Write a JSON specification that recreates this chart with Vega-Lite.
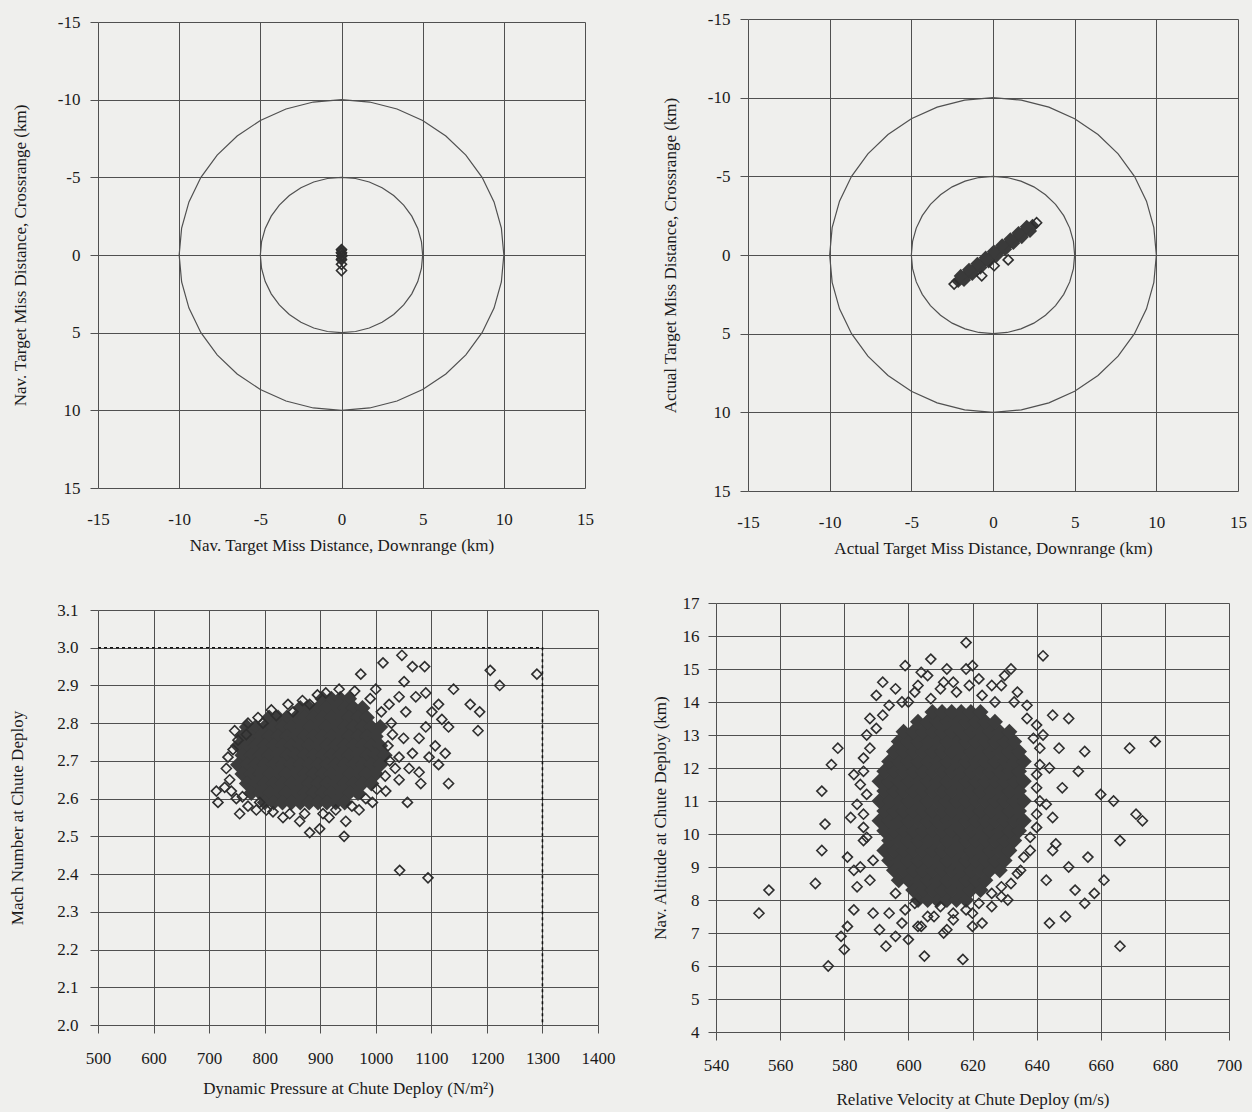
{
"$schema": "https://vega.github.io/schema/vega-lite/v6.json",
"background": "#efefed",
"padding": {"left": 8, "top": 10, "right": 5, "bottom": 5},
"config": {
  "font": "Liberation Serif",
  "view": {"stroke": null},
  "axis": {"grid": true, "gridColor": "#505050", "gridOpacity": 1, "gridWidth": 1, "domain": false, "tickColor": "#505050", "tickSize": 8, "labelFont": "Liberation Serif", "labelFontSize": 17, "labelColor": "#1a1a1a", "labelOverlap": false, "labelFlush": false, "titleFont": "Liberation Serif", "titleFontSize": 17, "titleFontWeight": "normal", "titleColor": "#1a1a1a"}
},
"datasets": {
  "circles": [
    {"r":10,"a":0,"x":10,"y":0},{"r":10,"a":10,"x":9.848,"y":1.736},{"r":10,"a":20,"x":9.397,"y":3.42},{"r":10,"a":30,"x":8.66,"y":5},{"r":10,"a":40,"x":7.66,"y":6.428},{"r":10,"a":50,"x":6.428,"y":7.66},{"r":10,"a":60,"x":5,"y":8.66},{"r":10,"a":70,"x":3.42,"y":9.397},{"r":10,"a":80,"x":1.736,"y":9.848},{"r":10,"a":90,"x":0,"y":10},{"r":10,"a":100,"x":-1.736,"y":9.848},{"r":10,"a":110,"x":-3.42,"y":9.397},{"r":10,"a":120,"x":-5,"y":8.66},{"r":10,"a":130,"x":-6.428,"y":7.66},{"r":10,"a":140,"x":-7.66,"y":6.428},{"r":10,"a":150,"x":-8.66,"y":5},{"r":10,"a":160,"x":-9.397,"y":3.42},{"r":10,"a":170,"x":-9.848,"y":1.736},{"r":10,"a":180,"x":-10,"y":0},{"r":10,"a":190,"x":-9.848,"y":-1.736},{"r":10,"a":200,"x":-9.397,"y":-3.42},{"r":10,"a":210,"x":-8.66,"y":-5},{"r":10,"a":220,"x":-7.66,"y":-6.428},{"r":10,"a":230,"x":-6.428,"y":-7.66},{"r":10,"a":240,"x":-5,"y":-8.66},{"r":10,"a":250,"x":-3.42,"y":-9.397},{"r":10,"a":260,"x":-1.736,"y":-9.848},{"r":10,"a":270,"x":0,"y":-10},{"r":10,"a":280,"x":1.736,"y":-9.848},{"r":10,"a":290,"x":3.42,"y":-9.397},{"r":10,"a":300,"x":5,"y":-8.66},{"r":10,"a":310,"x":6.428,"y":-7.66},{"r":10,"a":320,"x":7.66,"y":-6.428},{"r":10,"a":330,"x":8.66,"y":-5},{"r":10,"a":340,"x":9.397,"y":-3.42},{"r":10,"a":350,"x":9.848,"y":-1.736},{"r":10,"a":360,"x":10,"y":0},
    {"r":5,"a":0,"x":5,"y":0},{"r":5,"a":10,"x":4.924,"y":0.868},{"r":5,"a":20,"x":4.698,"y":1.71},{"r":5,"a":30,"x":4.33,"y":2.5},{"r":5,"a":40,"x":3.83,"y":3.214},{"r":5,"a":50,"x":3.214,"y":3.83},{"r":5,"a":60,"x":2.5,"y":4.33},{"r":5,"a":70,"x":1.71,"y":4.698},{"r":5,"a":80,"x":0.868,"y":4.924},{"r":5,"a":90,"x":0,"y":5},{"r":5,"a":100,"x":-0.868,"y":4.924},{"r":5,"a":110,"x":-1.71,"y":4.698},{"r":5,"a":120,"x":-2.5,"y":4.33},{"r":5,"a":130,"x":-3.214,"y":3.83},{"r":5,"a":140,"x":-3.83,"y":3.214},{"r":5,"a":150,"x":-4.33,"y":2.5},{"r":5,"a":160,"x":-4.698,"y":1.71},{"r":5,"a":170,"x":-4.924,"y":0.868},{"r":5,"a":180,"x":-5,"y":0},{"r":5,"a":190,"x":-4.924,"y":-0.868},{"r":5,"a":200,"x":-4.698,"y":-1.71},{"r":5,"a":210,"x":-4.33,"y":-2.5},{"r":5,"a":220,"x":-3.83,"y":-3.214},{"r":5,"a":230,"x":-3.214,"y":-3.83},{"r":5,"a":240,"x":-2.5,"y":-4.33},{"r":5,"a":250,"x":-1.71,"y":-4.698},{"r":5,"a":260,"x":-0.868,"y":-4.924},{"r":5,"a":270,"x":0,"y":-5},{"r":5,"a":280,"x":0.868,"y":-4.924},{"r":5,"a":290,"x":1.71,"y":-4.698},{"r":5,"a":300,"x":2.5,"y":-4.33},{"r":5,"a":310,"x":3.214,"y":-3.83},{"r":5,"a":320,"x":3.83,"y":-3.214},{"r":5,"a":330,"x":4.33,"y":-2.5},{"r":5,"a":340,"x":4.698,"y":-1.71},{"r":5,"a":350,"x":4.924,"y":-0.868},{"r":5,"a":360,"x":5,"y":0}
  ],
  "tl_core": [{"x":0,"y":-0.3},{"x":0,"y":-0.1},{"x":0,"y":0.1},{"x":0,"y":0.25}],
  "tl_pts": [{"x":0,"y":-0.35},{"x":0,"y":-0.15},{"x":0.03,"y":0.05},{"x":0,"y":0.3},{"x":0,"y":0.6},{"x":0,"y":1.0}],
  "tr_core": [{"x":-2.13,"y":1.655},{"x":-1.875,"y":1.46},{"x":-1.62,"y":1.265},{"x":-1.37,"y":1.07},{"x":-1.12,"y":0.875},{"x":-0.865,"y":0.68},{"x":-0.61,"y":0.485},{"x":-0.36,"y":0.29},{"x":-0.11,"y":0.095},{"x":0.145,"y":-0.1},{"x":0.4,"y":-0.295},{"x":0.65,"y":-0.49},{"x":0.9,"y":-0.685},{"x":1.155,"y":-0.88},{"x":1.41,"y":-1.075},{"x":1.66,"y":-1.27},{"x":1.91,"y":-1.465},{"x":2.165,"y":-1.66},{"x":2.42,"y":-1.855},
    {"x":-0.775,"y":0.8},{"x":-0.955,"y":0.56},{"x":-0.27,"y":0.41},{"x":-0.45,"y":0.17},{"x":0.235,"y":0.02},{"x":0.055,"y":-0.22},{"x":0.74,"y":-0.37},{"x":0.56,"y":-0.61},{"x":1.245,"y":-0.76},{"x":1.065,"y":-1.0},
    {"x":-1.775,"y":1.59},{"x":-1.975,"y":1.33},{"x":-1.27,"y":1.2},{"x":-1.47,"y":0.94},{"x":1.76,"y":-1.14},{"x":1.56,"y":-1.4},{"x":2.265,"y":-1.53},{"x":2.065,"y":-1.79}],
  "tr_pts": [{"x":-2.38,"y":1.85},{"x":2.67,"y":-2.05},{"x":-0.69,"y":1.32},{"x":0.07,"y":0.68},{"x":0.93,"y":0.31}],
  "bl_core": [
    {"x":904,"y":2.865},{"x":920,"y":2.865},{"x":936,"y":2.865},{"x":952,"y":2.865},
    {"x":864,"y":2.84},{"x":880,"y":2.84},{"x":896,"y":2.84},{"x":912,"y":2.84},{"x":928,"y":2.84},{"x":944,"y":2.84},{"x":960,"y":2.84},{"x":976,"y":2.84},
    {"x":808,"y":2.815},{"x":824,"y":2.815},{"x":840,"y":2.815},{"x":856,"y":2.815},{"x":872,"y":2.815},{"x":888,"y":2.815},{"x":904,"y":2.815},{"x":920,"y":2.815},{"x":936,"y":2.815},{"x":952,"y":2.815},{"x":968,"y":2.815},{"x":984,"y":2.815},
    {"x":768,"y":2.79},{"x":784,"y":2.79},{"x":800,"y":2.79},{"x":816,"y":2.79},{"x":832,"y":2.79},{"x":848,"y":2.79},{"x":864,"y":2.79},{"x":880,"y":2.79},{"x":896,"y":2.79},{"x":912,"y":2.79},{"x":928,"y":2.79},{"x":944,"y":2.79},{"x":960,"y":2.79},{"x":976,"y":2.79},{"x":992,"y":2.79},{"x":1008,"y":2.79},
    {"x":760,"y":2.765},{"x":776,"y":2.765},{"x":792,"y":2.765},{"x":808,"y":2.765},{"x":824,"y":2.765},{"x":840,"y":2.765},{"x":856,"y":2.765},{"x":872,"y":2.765},{"x":888,"y":2.765},{"x":904,"y":2.765},{"x":920,"y":2.765},{"x":936,"y":2.765},{"x":952,"y":2.765},{"x":968,"y":2.765},{"x":984,"y":2.765},{"x":1000,"y":2.765},
    {"x":752,"y":2.74},{"x":768,"y":2.74},{"x":784,"y":2.74},{"x":800,"y":2.74},{"x":816,"y":2.74},{"x":832,"y":2.74},{"x":848,"y":2.74},{"x":864,"y":2.74},{"x":880,"y":2.74},{"x":896,"y":2.74},{"x":912,"y":2.74},{"x":928,"y":2.74},{"x":944,"y":2.74},{"x":960,"y":2.74},{"x":976,"y":2.74},{"x":992,"y":2.74},{"x":1008,"y":2.74},
    {"x":760,"y":2.715},{"x":776,"y":2.715},{"x":792,"y":2.715},{"x":808,"y":2.715},{"x":824,"y":2.715},{"x":840,"y":2.715},{"x":856,"y":2.715},{"x":872,"y":2.715},{"x":888,"y":2.715},{"x":904,"y":2.715},{"x":920,"y":2.715},{"x":936,"y":2.715},{"x":952,"y":2.715},{"x":968,"y":2.715},{"x":984,"y":2.715},{"x":1000,"y":2.715},{"x":1016,"y":2.715},
    {"x":752,"y":2.69},{"x":768,"y":2.69},{"x":784,"y":2.69},{"x":800,"y":2.69},{"x":816,"y":2.69},{"x":832,"y":2.69},{"x":848,"y":2.69},{"x":864,"y":2.69},{"x":880,"y":2.69},{"x":896,"y":2.69},{"x":912,"y":2.69},{"x":928,"y":2.69},{"x":944,"y":2.69},{"x":960,"y":2.69},{"x":976,"y":2.69},{"x":992,"y":2.69},{"x":1008,"y":2.69},
    {"x":760,"y":2.665},{"x":776,"y":2.665},{"x":792,"y":2.665},{"x":808,"y":2.665},{"x":824,"y":2.665},{"x":840,"y":2.665},{"x":856,"y":2.665},{"x":872,"y":2.665},{"x":888,"y":2.665},{"x":904,"y":2.665},{"x":920,"y":2.665},{"x":936,"y":2.665},{"x":952,"y":2.665},{"x":968,"y":2.665},{"x":984,"y":2.665},{"x":1000,"y":2.665},
    {"x":768,"y":2.64},{"x":784,"y":2.64},{"x":800,"y":2.64},{"x":816,"y":2.64},{"x":832,"y":2.64},{"x":848,"y":2.64},{"x":864,"y":2.64},{"x":880,"y":2.64},{"x":896,"y":2.64},{"x":912,"y":2.64},{"x":928,"y":2.64},{"x":944,"y":2.64},{"x":960,"y":2.64},{"x":976,"y":2.64},{"x":992,"y":2.64},
    {"x":776,"y":2.615},{"x":792,"y":2.615},{"x":808,"y":2.615},{"x":824,"y":2.615},{"x":840,"y":2.615},{"x":856,"y":2.615},{"x":872,"y":2.615},{"x":888,"y":2.615},{"x":904,"y":2.615},{"x":920,"y":2.615},{"x":936,"y":2.615},{"x":952,"y":2.615},{"x":968,"y":2.615},
    {"x":800,"y":2.59},{"x":816,"y":2.59},{"x":832,"y":2.59},{"x":848,"y":2.59},{"x":864,"y":2.59},{"x":880,"y":2.59},{"x":896,"y":2.59},{"x":912,"y":2.59},{"x":928,"y":2.59},{"x":944,"y":2.59}
  ],
  "bl_pts": [
    {"x":713,"y":2.62},{"x":716,"y":2.59},{"x":755,"y":2.56},{"x":734,"y":2.71},{"x":731,"y":2.68},{"x":737,"y":2.65},{"x":746,"y":2.78},{"x":767,"y":2.77},{"x":743,"y":2.73},{"x":728,"y":2.63},{"x":749,"y":2.6},
    {"x":791,"y":2.59},{"x":803,"y":2.57},{"x":833,"y":2.55},{"x":863,"y":2.54},{"x":881,"y":2.51},{"x":899,"y":2.52},{"x":916,"y":2.55},{"x":943,"y":2.5},{"x":946,"y":2.54},{"x":970,"y":2.57},{"x":994,"y":2.59},{"x":1018,"y":2.62},{"x":1057,"y":2.59},{"x":1042,"y":2.65},
    {"x":1042,"y":2.71},{"x":1066,"y":2.72},{"x":1078,"y":2.76},{"x":1090,"y":2.79},{"x":1101,"y":2.83},{"x":1113,"y":2.85},{"x":1119,"y":2.81},{"x":1125,"y":2.72},{"x":1131,"y":2.79},{"x":1096,"y":2.71},{"x":1078,"y":2.67},{"x":1107,"y":2.74},{"x":1054,"y":2.83},{"x":1072,"y":2.87},{"x":1042,"y":2.87},{"x":1024,"y":2.85},{"x":1000,"y":2.89},{"x":1090,"y":2.88},{"x":1131,"y":2.64},{"x":1113,"y":2.69},{"x":1081,"y":2.64},{"x":1030,"y":2.77},{"x":1050,"y":2.76},{"x":1060,"y":2.68},{"x":1035,"y":2.68},
    {"x":973,"y":2.93},{"x":1013,"y":2.96},{"x":1047,"y":2.98},{"x":1066,"y":2.95},{"x":1088,"y":2.95},{"x":1051,"y":2.91},{"x":934,"y":2.89},{"x":910,"y":2.88},{"x":881,"y":2.85},{"x":851,"y":2.83},{"x":821,"y":2.82},{"x":797,"y":2.8},
    {"x":1140,"y":2.89},{"x":1206,"y":2.94},{"x":1170,"y":2.85},{"x":1187,"y":2.83},{"x":1184,"y":2.78},{"x":1223,"y":2.9},{"x":1290,"y":2.93},{"x":1043,"y":2.41},{"x":1094,"y":2.39},
    {"x":740,"y":2.62},{"x":760,"y":2.605},{"x":770,"y":2.58},{"x":785,"y":2.57},{"x":815,"y":2.565},{"x":845,"y":2.56},{"x":872,"y":2.56},{"x":905,"y":2.56},{"x":928,"y":2.57},{"x":957,"y":2.58},{"x":982,"y":2.6},{"x":1002,"y":2.625},{"x":1017,"y":2.66},{"x":1025,"y":2.7},{"x":1022,"y":2.74},{"x":1028,"y":2.8},{"x":1010,"y":2.83},{"x":990,"y":2.865},{"x":962,"y":2.885},{"x":895,"y":2.875},{"x":868,"y":2.86},{"x":842,"y":2.85},{"x":812,"y":2.835},{"x":788,"y":2.815},{"x":770,"y":2.8},{"x":752,"y":2.755}
  ],
  "bl_limit": [{"x":500,"y":3.0,"o":1},{"x":1300,"y":3.0,"o":2},{"x":1300,"y":2.0,"o":3}],
  "br_core": [
    {"x":603,"y":8.0},{"x":606,"y":8.0},{"x":609,"y":8.0},{"x":612,"y":8.0},{"x":615,"y":8.0},{"x":618,"y":8.0},
    {"x":601.5,"y":8.3},{"x":604.5,"y":8.3},{"x":607.5,"y":8.3},{"x":610.5,"y":8.3},{"x":613.5,"y":8.3},{"x":616.5,"y":8.3},{"x":619.5,"y":8.3},{"x":622.5,"y":8.3},
    {"x":597,"y":8.6},{"x":600,"y":8.6},{"x":603,"y":8.6},{"x":606,"y":8.6},{"x":609,"y":8.6},{"x":612,"y":8.6},{"x":615,"y":8.6},{"x":618,"y":8.6},{"x":621,"y":8.6},{"x":624,"y":8.6},
    {"x":595.5,"y":8.9},{"x":598.5,"y":8.9},{"x":601.5,"y":8.9},{"x":604.5,"y":8.9},{"x":607.5,"y":8.9},{"x":610.5,"y":8.9},{"x":613.5,"y":8.9},{"x":616.5,"y":8.9},{"x":619.5,"y":8.9},{"x":622.5,"y":8.9},{"x":625.5,"y":8.9},{"x":628.5,"y":8.9},
    {"x":594,"y":9.2},{"x":597,"y":9.2},{"x":600,"y":9.2},{"x":603,"y":9.2},{"x":606,"y":9.2},{"x":609,"y":9.2},{"x":612,"y":9.2},{"x":615,"y":9.2},{"x":618,"y":9.2},{"x":621,"y":9.2},{"x":624,"y":9.2},{"x":627,"y":9.2},{"x":630,"y":9.2},
    {"x":592.5,"y":9.5},{"x":595.5,"y":9.5},{"x":598.5,"y":9.5},{"x":601.5,"y":9.5},{"x":604.5,"y":9.5},{"x":607.5,"y":9.5},{"x":610.5,"y":9.5},{"x":613.5,"y":9.5},{"x":616.5,"y":9.5},{"x":619.5,"y":9.5},{"x":622.5,"y":9.5},{"x":625.5,"y":9.5},{"x":628.5,"y":9.5},{"x":631.5,"y":9.5},
    {"x":594,"y":9.8},{"x":597,"y":9.8},{"x":600,"y":9.8},{"x":603,"y":9.8},{"x":606,"y":9.8},{"x":609,"y":9.8},{"x":612,"y":9.8},{"x":615,"y":9.8},{"x":618,"y":9.8},{"x":621,"y":9.8},{"x":624,"y":9.8},{"x":627,"y":9.8},{"x":630,"y":9.8},{"x":633,"y":9.8},
    {"x":592.5,"y":10.1},{"x":595.5,"y":10.1},{"x":598.5,"y":10.1},{"x":601.5,"y":10.1},{"x":604.5,"y":10.1},{"x":607.5,"y":10.1},{"x":610.5,"y":10.1},{"x":613.5,"y":10.1},{"x":616.5,"y":10.1},{"x":619.5,"y":10.1},{"x":622.5,"y":10.1},{"x":625.5,"y":10.1},{"x":628.5,"y":10.1},{"x":631.5,"y":10.1},{"x":634.5,"y":10.1},
    {"x":591,"y":10.4},{"x":594,"y":10.4},{"x":597,"y":10.4},{"x":600,"y":10.4},{"x":603,"y":10.4},{"x":606,"y":10.4},{"x":609,"y":10.4},{"x":612,"y":10.4},{"x":615,"y":10.4},{"x":618,"y":10.4},{"x":621,"y":10.4},{"x":624,"y":10.4},{"x":627,"y":10.4},{"x":630,"y":10.4},{"x":633,"y":10.4},{"x":636,"y":10.4},
    {"x":592.5,"y":10.7},{"x":595.5,"y":10.7},{"x":598.5,"y":10.7},{"x":601.5,"y":10.7},{"x":604.5,"y":10.7},{"x":607.5,"y":10.7},{"x":610.5,"y":10.7},{"x":613.5,"y":10.7},{"x":616.5,"y":10.7},{"x":619.5,"y":10.7},{"x":622.5,"y":10.7},{"x":625.5,"y":10.7},{"x":628.5,"y":10.7},{"x":631.5,"y":10.7},{"x":634.5,"y":10.7},
    {"x":591,"y":11.0},{"x":594,"y":11.0},{"x":597,"y":11.0},{"x":600,"y":11.0},{"x":603,"y":11.0},{"x":606,"y":11.0},{"x":609,"y":11.0},{"x":612,"y":11.0},{"x":615,"y":11.0},{"x":618,"y":11.0},{"x":621,"y":11.0},{"x":624,"y":11.0},{"x":627,"y":11.0},{"x":630,"y":11.0},{"x":633,"y":11.0},{"x":636,"y":11.0},
    {"x":592.5,"y":11.3},{"x":595.5,"y":11.3},{"x":598.5,"y":11.3},{"x":601.5,"y":11.3},{"x":604.5,"y":11.3},{"x":607.5,"y":11.3},{"x":610.5,"y":11.3},{"x":613.5,"y":11.3},{"x":616.5,"y":11.3},{"x":619.5,"y":11.3},{"x":622.5,"y":11.3},{"x":625.5,"y":11.3},{"x":628.5,"y":11.3},{"x":631.5,"y":11.3},{"x":634.5,"y":11.3},
    {"x":591,"y":11.6},{"x":594,"y":11.6},{"x":597,"y":11.6},{"x":600,"y":11.6},{"x":603,"y":11.6},{"x":606,"y":11.6},{"x":609,"y":11.6},{"x":612,"y":11.6},{"x":615,"y":11.6},{"x":618,"y":11.6},{"x":621,"y":11.6},{"x":624,"y":11.6},{"x":627,"y":11.6},{"x":630,"y":11.6},{"x":633,"y":11.6},{"x":636,"y":11.6},
    {"x":592.5,"y":11.9},{"x":595.5,"y":11.9},{"x":598.5,"y":11.9},{"x":601.5,"y":11.9},{"x":604.5,"y":11.9},{"x":607.5,"y":11.9},{"x":610.5,"y":11.9},{"x":613.5,"y":11.9},{"x":616.5,"y":11.9},{"x":619.5,"y":11.9},{"x":622.5,"y":11.9},{"x":625.5,"y":11.9},{"x":628.5,"y":11.9},{"x":631.5,"y":11.9},{"x":634.5,"y":11.9},
    {"x":594,"y":12.2},{"x":597,"y":12.2},{"x":600,"y":12.2},{"x":603,"y":12.2},{"x":606,"y":12.2},{"x":609,"y":12.2},{"x":612,"y":12.2},{"x":615,"y":12.2},{"x":618,"y":12.2},{"x":621,"y":12.2},{"x":624,"y":12.2},{"x":627,"y":12.2},{"x":630,"y":12.2},{"x":633,"y":12.2},{"x":636,"y":12.2},
    {"x":595.5,"y":12.5},{"x":598.5,"y":12.5},{"x":601.5,"y":12.5},{"x":604.5,"y":12.5},{"x":607.5,"y":12.5},{"x":610.5,"y":12.5},{"x":613.5,"y":12.5},{"x":616.5,"y":12.5},{"x":619.5,"y":12.5},{"x":622.5,"y":12.5},{"x":625.5,"y":12.5},{"x":628.5,"y":12.5},{"x":631.5,"y":12.5},{"x":634.5,"y":12.5},
    {"x":597,"y":12.8},{"x":600,"y":12.8},{"x":603,"y":12.8},{"x":606,"y":12.8},{"x":609,"y":12.8},{"x":612,"y":12.8},{"x":615,"y":12.8},{"x":618,"y":12.8},{"x":621,"y":12.8},{"x":624,"y":12.8},{"x":627,"y":12.8},{"x":630,"y":12.8},{"x":633,"y":12.8},
    {"x":598.5,"y":13.1},{"x":601.5,"y":13.1},{"x":604.5,"y":13.1},{"x":607.5,"y":13.1},{"x":610.5,"y":13.1},{"x":613.5,"y":13.1},{"x":616.5,"y":13.1},{"x":619.5,"y":13.1},{"x":622.5,"y":13.1},{"x":625.5,"y":13.1},{"x":628.5,"y":13.1},{"x":631.5,"y":13.1},
    {"x":603,"y":13.4},{"x":606,"y":13.4},{"x":609,"y":13.4},{"x":612,"y":13.4},{"x":615,"y":13.4},{"x":618,"y":13.4},{"x":621,"y":13.4},{"x":624,"y":13.4},{"x":627,"y":13.4},
    {"x":607.5,"y":13.7},{"x":610.5,"y":13.7},{"x":613.5,"y":13.7},{"x":616.5,"y":13.7},{"x":619.5,"y":13.7},{"x":622.5,"y":13.7}
  ],
  "br_pts": [
    {"x":553.4,"y":7.6},{"x":556.5,"y":8.3},{"x":571,"y":8.5},{"x":573,"y":9.5},{"x":574,"y":10.3},{"x":573,"y":11.3},{"x":576,"y":12.1},{"x":578,"y":12.6},{"x":575,"y":6.0},{"x":579,"y":6.9},{"x":580,"y":6.5},{"x":581,"y":7.2},{"x":583,"y":7.7},{"x":584,"y":8.4},{"x":585,"y":9.0},{"x":586,"y":9.8},{"x":584,"y":10.9},{"x":585,"y":11.5},{"x":586,"y":12.3},{"x":587,"y":13.0},{"x":588,"y":13.5},{"x":590,"y":14.2},{"x":592,"y":14.6},{"x":594,"y":13.9},
    {"x":589,"y":7.6},{"x":591,"y":7.1},{"x":593,"y":6.6},{"x":596,"y":6.9},{"x":598,"y":7.3},{"x":600,"y":6.8},{"x":603,"y":7.2},{"x":605,"y":6.3},{"x":608,"y":7.5},{"x":611,"y":7.0},{"x":614,"y":7.4},{"x":617,"y":6.2},{"x":620,"y":7.6},{"x":623,"y":7.3},{"x":626,"y":7.8},{"x":629,"y":8.1},{"x":632,"y":8.5},{"x":635,"y":8.9},{"x":638,"y":9.5},{"x":640,"y":10.2},{"x":641,"y":11.0},{"x":640,"y":11.8},{"x":641,"y":12.6},{"x":640,"y":13.3},{"x":637,"y":13.9},{"x":634,"y":14.3},{"x":630,"y":14.8},{"x":626,"y":14.5},{"x":622,"y":14.7},{"x":618,"y":15.0},{"x":614,"y":14.6},{"x":610,"y":14.4},{"x":606,"y":14.8},{"x":602,"y":14.3},{"x":598,"y":14.0},
    {"x":599,"y":15.1},{"x":607,"y":15.3},{"x":618,"y":15.8},{"x":642,"y":15.4},{"x":645,"y":13.6},{"x":647,"y":12.6},{"x":650,"y":13.5},{"x":653,"y":11.9},{"x":655,"y":12.5},{"x":648,"y":11.4},{"x":645,"y":10.5},{"x":646,"y":9.7},{"x":650,"y":9.0},{"x":652,"y":8.3},{"x":649,"y":7.5},{"x":656,"y":9.3},{"x":658,"y":8.2},{"x":660,"y":11.2},{"x":664,"y":11.0},{"x":666,"y":9.8},{"x":666,"y":6.6},{"x":669,"y":12.6},{"x":671,"y":10.6},{"x":673,"y":10.4},{"x":677,"y":12.8},{"x":655,"y":7.9},{"x":644,"y":7.3},{"x":661,"y":8.6},
    {"x":588,"y":8.6},{"x":589,"y":9.2},{"x":587,"y":9.9},{"x":586,"y":10.6},{"x":587,"y":11.2},{"x":586,"y":11.9},{"x":588,"y":12.6},{"x":590,"y":13.2},{"x":592,"y":13.6},{"x":586,"y":10.2},{"x":583,"y":11.8},{"x":582,"y":10.5},{"x":581,"y":9.3},{"x":583,"y":8.9},
    {"x":634,"y":8.8},{"x":636,"y":9.3},{"x":638,"y":9.9},{"x":640,"y":10.6},{"x":640,"y":11.4},{"x":641,"y":12.1},{"x":639,"y":12.9},{"x":637,"y":13.5},{"x":633,"y":14.0},{"x":643,"y":10.9},{"x":644,"y":12.0},{"x":642,"y":13.0},{"x":645,"y":9.5},{"x":643,"y":8.6},
    {"x":600,"y":14.0},{"x":603,"y":14.5},{"x":607,"y":14.1},{"x":611,"y":14.6},{"x":615,"y":14.3},{"x":619,"y":14.5},{"x":623,"y":14.2},{"x":627,"y":14.0},{"x":629,"y":14.5},{"x":612,"y":15.0},{"x":620,"y":15.1},{"x":604,"y":14.9},{"x":596,"y":14.4},{"x":632,"y":15.0},
    {"x":596,"y":8.2},{"x":599,"y":7.7},{"x":602,"y":7.9},{"x":606,"y":7.5},{"x":610,"y":7.8},{"x":614,"y":7.6},{"x":618,"y":7.7},{"x":622,"y":7.9},{"x":626,"y":8.2},{"x":629,"y":8.4},{"x":631,"y":8.0},{"x":604,"y":7.2},{"x":612,"y":7.1},{"x":620,"y":7.2},{"x":594,"y":7.6}
  ]
},
"vconcat": [
  {"hconcat": [
    {"width": 487, "height": 466,
     "encoding": {
       "x": {"field": "x", "type": "quantitative", "scale": {"domain": [-15, 15], "nice": false, "zero": false}, "axis": {"title": "Nav. Target Miss Distance, Downrange (km)", "values": [-15, -10, -5, 0, 5, 10, 15], "labelExpr": "datum.value < 0 ? '-' + abs(datum.value) : '' + datum.value", "ticks": false, "labelPadding": 23, "titlePadding": 10}},
       "y": {"field": "y", "type": "quantitative", "scale": {"domain": [-15, 15], "reverse": true, "nice": false, "zero": false}, "axis": {"title": "Nav. Target Miss Distance, Crossrange (km)", "values": [-15, -10, -5, 0, 5, 10, 15], "labelExpr": "datum.value < 0 ? '-' + abs(datum.value) : '' + datum.value", "labelPadding": 10, "titlePadding": 28}}
     },
     "layer": [
       {"data": {"name": "circles"}, "mark": {"type": "line", "stroke": "#505050", "strokeWidth": 1.2}, "encoding": {"detail": {"field": "r", "type": "nominal"}, "order": {"field": "a", "type": "quantitative"}}},
       {"data": {"name": "tl_core"}, "mark": {"type": "point", "shape": "diamond", "filled": true, "fill": "#3a3a3a", "strokeWidth": 0, "size": 130, "opacity": 1}},
       {"data": {"name": "tl_pts"}, "mark": {"type": "point", "shape": "diamond", "filled": false, "stroke": "#2e2e2e", "strokeWidth": 1.6, "size": 100, "opacity": 1}}
     ]},
    {"width": 490, "height": 472,
     "encoding": {
       "x": {"field": "x", "type": "quantitative", "scale": {"domain": [-15, 15], "nice": false, "zero": false}, "axis": {"title": "Actual Target Miss Distance, Downrange (km)", "values": [-15, -10, -5, 0, 5, 10, 15], "labelExpr": "datum.value < 0 ? '-' + abs(datum.value) : '' + datum.value", "ticks": false, "labelPadding": 23, "titlePadding": 10}},
       "y": {"field": "y", "type": "quantitative", "scale": {"domain": [-15, 15], "reverse": true, "nice": false, "zero": false}, "axis": {"title": "Actual Target Miss Distance, Crossrange (km)", "values": [-15, -10, -5, 0, 5, 10, 15], "labelExpr": "datum.value < 0 ? '-' + abs(datum.value) : '' + datum.value", "labelPadding": 10, "titlePadding": 28}}
     },
     "layer": [
       {"data": {"name": "circles"}, "mark": {"type": "line", "stroke": "#505050", "strokeWidth": 1.2}, "encoding": {"detail": {"field": "r", "type": "nominal"}, "order": {"field": "a", "type": "quantitative"}}},
       {"data": {"name": "tr_core"}, "mark": {"type": "point", "shape": "diamond", "filled": true, "fill": "#3a3a3a", "strokeWidth": 0, "size": 200, "opacity": 1}},
       {"data": {"name": "tr_pts"}, "mark": {"type": "point", "shape": "diamond", "filled": false, "stroke": "#2e2e2e", "strokeWidth": 1.6, "size": 100, "opacity": 1}}
     ]}
  ], "spacing": 163, "bounds": "flush", "center": true},
  {"hconcat": [
    {"width": 500, "height": 415,
     "encoding": {
       "x": {"field": "x", "type": "quantitative", "scale": {"domain": [500, 1400], "nice": false, "zero": false}, "axis": {"title": "Dynamic Pressure at Chute Deploy (N/m²)", "values": [500, 600, 700, 800, 900, 1000, 1100, 1200, 1300, 1400], "format": "d", "labelPadding": 17, "titlePadding": 14}},
       "y": {"field": "y", "type": "quantitative", "scale": {"domain": [2.0, 3.1], "nice": false, "zero": false}, "axis": {"title": "Mach Number at Chute Deploy", "values": [2.0, 2.1, 2.2, 2.3, 2.4, 2.5, 2.6, 2.7, 2.8, 2.9, 3.0, 3.1], "format": ".1f", "labelPadding": 12, "titlePadding": 30}}
     },
     "layer": [
       {"data": {"name": "bl_limit"}, "mark": {"type": "line", "stroke": "#111111", "strokeWidth": 1.6, "strokeDash": [3, 3]}, "encoding": {"order": {"field": "o", "type": "quantitative"}}},
       {"data": {"name": "bl_core"}, "mark": {"type": "point", "shape": "diamond", "filled": true, "fill": "#3c3c3c", "strokeWidth": 0, "size": 256, "opacity": 1}},
       {"data": {"name": "bl_pts"}, "mark": {"type": "point", "shape": "diamond", "filled": false, "stroke": "#2e2e2e", "strokeWidth": 1.6, "size": 100, "opacity": 1}}
     ]},
    {"width": 513, "height": 429,
     "encoding": {
       "x": {"field": "x", "type": "quantitative", "scale": {"domain": [540, 700], "nice": false, "zero": false}, "axis": {"title": "Relative Velocity at Chute Deploy (m/s)", "values": [540, 560, 580, 600, 620, 640, 660, 680, 700], "format": "d", "labelPadding": 17, "titlePadding": 18}},
       "y": {"field": "y", "type": "quantitative", "scale": {"domain": [4, 17], "nice": false, "zero": false}, "axis": {"title": "Nav. Altitude at Chute Deploy (km)", "values": [4, 5, 6, 7, 8, 9, 10, 11, 12, 13, 14, 15, 16, 17], "labelPadding": 9, "titlePadding": 13}}
     },
     "layer": [
       {"data": {"name": "br_core"}, "mark": {"type": "point", "shape": "diamond", "filled": true, "fill": "#3c3c3c", "strokeWidth": 0, "size": 256, "opacity": 1}},
       {"data": {"name": "br_pts"}, "mark": {"type": "point", "shape": "diamond", "filled": false, "stroke": "#2e2e2e", "strokeWidth": 1.6, "size": 100, "opacity": 1}}
     ]}
  ], "spacing": 118, "bounds": "flush", "center": true}
],
"spacing": 38
}
